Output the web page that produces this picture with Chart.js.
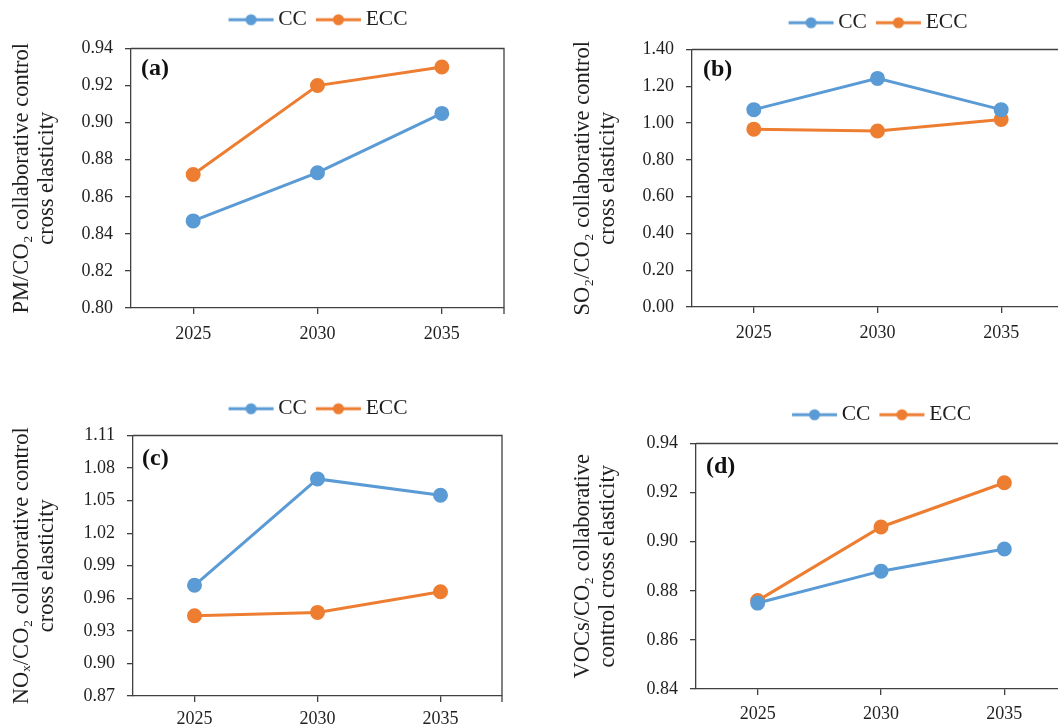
<!DOCTYPE html>
<html><head><meta charset="utf-8">
<script src="https://cdn.jsdelivr.net/npm/chart.js@4.4.1/dist/chart.umd.min.js"></script>
<style>
html,body{margin:0;padding:0;background:#fff;overflow:hidden;width:1058px;height:726px;position:relative;}
canvas{position:absolute;}
</style></head><body>
<canvas id="ca" width="529" height="360" style="left:0;top:0"></canvas>
<canvas id="cb" width="560" height="360" style="left:529px;top:0"></canvas>
<canvas id="cc" width="529" height="356" style="left:0;top:370px"></canvas>
<canvas id="cd" width="560" height="356" style="left:529px;top:370px"></canvas>
<script>
// ---------- data ----------
const years = ['2025', '2030', '2035'];
const seriesNames = ['CC', 'ECC'];

const pmCC  = [0.847, 0.873, 0.905];
const pmECC = [0.872, 0.920, 0.930];

const so2CC  = [1.073, 1.243, 1.073];
const so2ECC = [0.967, 0.957, 1.020];

const noxCC  = [0.972, 1.070, 1.055];
const noxECC = [0.944, 0.947, 0.966];

const vocCC  = [0.875, 0.888, 0.897];
const vocECC = [0.876, 0.906, 0.924];

const pmTicks  = [0.80, 0.94, 0.02];
const so2Ticks = [0.00, 1.40, 0.20];
const noxTicks = [0.87, 1.11, 0.03];
const vocTicks = [0.84, 0.94, 0.02];

const pmTitle  = ['PM/CO\u2082 collaborative control', 'cross elasticity'];
const so2Title = ['SO\u2082/CO\u2082 collaborative control', 'cross elasticity'];
const noxTitle = ['NO\u2093/CO\u2082 collaborative control', 'cross elasticity'];
const vocTitle = ['VOCs/CO\u2082 collaborative', 'control cross elasticity'];

const panelTags = ['(a)', '(b)', '(c)', '(d)'];

// ---------- styling ----------
const SERIF = "'Liberation Serif', 'Times New Roman', serif";
const BLUE = '#5B9BD5';
const ORANGE = '#ED7D31';
const TEXT = '#1f1f1f';
const AXIS = '#404040';

function legendIcon(color) {
  const c = document.createElement('canvas');
  c.width = 54; c.height = 14;
  const g = c.getContext('2d');
  g.strokeStyle = color; g.lineWidth = 3;
  g.beginPath(); g.moveTo(8, 7); g.lineTo(53, 7); g.stroke();
  g.fillStyle = color;
  g.beginPath(); g.arc(30.5, 7, 5.5, 0, Math.PI * 2); g.fill();
  return c;
}
const icons = [legendIcon(BLUE), legendIcon(ORANGE)];

function makePanel(id, cc, ecc, ticks, title, tag, geo) {
  const plugins = [
    {
      id: 'legendGap',
      beforeLayout(chart) {
        const lg = chart.legend;
        if (lg && !lg._gapPatched) {
          const orig = lg.fit.bind(lg);
          lg.fit = function () { orig(); this.height += geo.gap; };
          lg._gapPatched = true;
        }
      }
    },
    {
      id: 'frame',
      beforeDatasetsDraw(chart) {
        const { ctx, chartArea: a } = chart;
        ctx.save();
        ctx.strokeStyle = AXIS; ctx.lineWidth = 1.3;
        ctx.beginPath();
        ctx.moveTo(a.left, a.top); ctx.lineTo(a.right, a.top);
        ctx.lineTo(a.right, a.bottom + 6);
        ctx.stroke();
        ctx.restore();
      }
    },
    {
      id: 'tag',
      afterDraw(chart) {
        const { ctx, chartArea: a } = chart;
        ctx.save();
        ctx.font = 'bold 24px ' + SERIF;
        ctx.fillStyle = '#111';
        ctx.textBaseline = 'top';
        ctx.fillText(tag, a.left + geo.tagX, a.top + geo.tagY);
        ctx.restore();
      }
    }
  ];
  return new Chart(document.getElementById(id), {
    type: 'line',
    data: {
      labels: years,
      datasets: [
        { label: seriesNames[0], data: cc, borderColor: BLUE, backgroundColor: BLUE,
          pointBackgroundColor: BLUE, pointBorderColor: BLUE, borderWidth: 3,
          pointRadius: 6, pointHoverRadius: 6, tension: 0 },
        { label: seriesNames[1], data: ecc, borderColor: ORANGE, backgroundColor: ORANGE,
          pointBackgroundColor: ORANGE, pointBorderColor: ORANGE, borderWidth: 3,
          pointRadius: 6, pointHoverRadius: 6, tension: 0 }
      ]
    },
    options: {
      responsive: false,
      animation: false,
      events: [],
      layout: { padding: { top: geo.padTop, right: geo.padRight, left: 0, bottom: 0 } },
      plugins: {
        legend: {
          position: 'top',
          fullSize: false,
          labels: {
            usePointStyle: true,
            pointStyleWidth: 40,
            padding: 8,
            color: TEXT,
            font: { family: SERIF, size: 21.5 },
            generateLabels(chart) {
              return chart.data.datasets.map((ds, i) => ({
                text: ds.label, pointStyle: icons[i], datasetIndex: i, hidden: false,
                lineWidth: 0, fillStyle: ds.borderColor, strokeStyle: ds.borderColor, fontColor: TEXT
              }));
            }
          }
        },
        tooltip: { enabled: false }
      },
      scales: {
        x: {
          offset: true,
          grid: { display: true, drawOnChartArea: false, drawTicks: true, tickLength: 6,
                  offset: false, color: AXIS, lineWidth: 1.3 },
          border: { display: true, color: AXIS, width: 1.3 },
          ticks: { color: TEXT, font: { family: SERIF, size: 18 }, padding: geo.xPad, maxRotation: 0 },
          afterFit(s) { s.height = geo.xH; }
        },
        y: {
          min: ticks[0], max: ticks[1],
          grid: { display: true, drawOnChartArea: false, drawTicks: true, tickLength: 6,
                  color: AXIS, lineWidth: 1.3 },
          border: { display: true, color: AXIS, width: 1.3 },
          ticks: { stepSize: ticks[2], color: TEXT, font: { family: SERIF, size: 18 }, padding: 12,
                   callback: v => Number(v).toFixed(2) },
          title: { display: true, text: title, color: TEXT,
                   font: { family: SERIF, size: 22.5, lineHeight: 1.12 },
                   padding: { top: geo.titlePad, bottom: 0 } },
          afterFit(s) { s.width = geo.yW; }
        }
      }
    },
    plugins
  });
}

makePanel('ca', pmCC, pmECC, pmTicks, pmTitle, panelTags[0],
  { padTop: 1, gap: 8, padRight: 25, yW: 131, xH: 52, xPad: 9, titlePad: 9.5, tagX: 10, tagY: 8 });
makePanel('cb', so2CC, so2ECC, so2Ticks, so2Title, panelTags[1],
  { padTop: 4, gap: 6, padRight: 26, yW: 163, xH: 53, xPad: 9, titlePad: 41.5, tagX: 11, tagY: 8 });
makePanel('cc', noxCC, noxECC, noxTicks, noxTitle, panelTags[2],
  { padTop: 20, gap: 6, padRight: 27, yW: 133, xH: 30, xPad: 6, titlePad: 9.5, tagX: 9, tagY: 11 });
makePanel('cd', vocCC, vocECC, vocTicks, vocTitle, panelTags[3],
  { padTop: 26, gap: 8, padRight: 23, yW: 167, xH: 37, xPad: 8, titlePad: 41.5, tagX: 10, tagY: 11 });
</script>
</body></html>
